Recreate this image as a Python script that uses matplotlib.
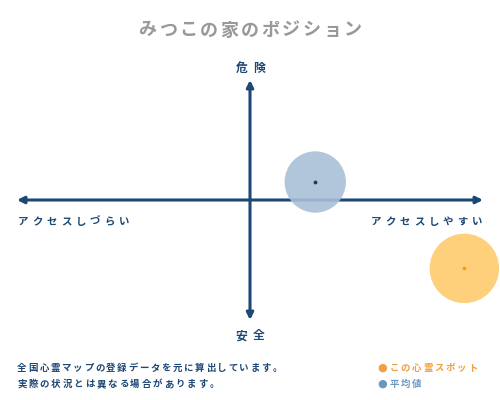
import matplotlib
matplotlib.use('Agg')
import matplotlib.pyplot as plt
from matplotlib.patches import FancyArrowPatch

plt.rcParams['font.family'] = ['Noto Sans CJK JP', 'DejaVu Sans']

# データ
titulo = 'みつこの家のポジション'
eixo_cima, eixo_baixo = '危険', '安全'
eixo_esq, eixo_dir = 'アクセスしづらい', 'アクセスしやすい'
pontos_nome = ['平均値', 'この心霊スポット']
pontos_x = [2.8, 9.2]
pontos_y = [1.5, -5.7]
notas = ['全国心霊マップの登録データを元に算出しています。',
         '実際の状況とは異なる場合があります。']

NAVY = '#1d4876'
COR_CIRC = ['#a9bfd7', '#ffcb6e']
COR_PONTO = ['#1d3a5a', '#f0a020']
COR_LEG = ['#6d98be', '#f0a040']

W, H = 500, 400
fig = plt.figure(figsize=(5, 4), dpi=100)


def px(x, y):
    return x / W, 1 - y / H


def texto_espacado(x, y, s, size, passo, cor, ha='left', weight='bold'):
    # desenha caractere por caractere para ter espaçamento
    n = len(s)
    total = passo * (n - 1)
    if ha == 'right':
        x0 = x - total
    elif ha == 'center':
        x0 = x - total / 2
    else:
        x0 = x
    for i, c in enumerate(s):
        fx, fy = px(x0 + i * passo, y)
        ha_c = 'left' if ha == 'left' and False else 'center'
        fig.text(fx, fy, c, fontsize=size, color=cor, ha=ha_c, va='center',
                 weight=weight)


# eixos: área entre as setas
l, t = px(17, 80)
r, b = px(483, 320)
ax = fig.add_axes([l, b, r - l, t - b])
ax.set_xlim(-10, 10)
ax.set_ylim(-10, 10)
ax.axis('off')

# setas
ax.add_patch(FancyArrowPatch((-10, 0), (10, 0), arrowstyle='<|-|>',
                             mutation_scale=10, color=NAVY, lw=2.2,
                             shrinkA=0, shrinkB=0, zorder=1))
ax.add_patch(FancyArrowPatch((0, -10), (0, 10), arrowstyle='<|-|>',
                             mutation_scale=10, color=NAVY, lw=2.2,
                             shrinkA=0, shrinkB=0, zorder=1))

# círculos
tamanhos = [1950, 2500]
for i in range(len(pontos_x)):
    ax.scatter(pontos_x[i], pontos_y[i], s=tamanhos[i], color=COR_CIRC[i],
               alpha=0.9, edgecolors='none', zorder=2, clip_on=False)
    ax.scatter(pontos_x[i], pontos_y[i], s=3, color=COR_PONTO[i],
               zorder=3, clip_on=False)

# textos
texto_espacado(250, 30, titulo, 13, 20.5, '#999999', ha='center')
texto_espacado(250, 68, eixo_cima, 8.5, 17, NAVY, ha='center')
texto_espacado(250, 336, eixo_baixo, 8.5, 17, NAVY, ha='center')
texto_espacado(23, 222, eixo_esq, 7.5, 14.4, NAVY, ha='left')
texto_espacado(477, 222, eixo_dir, 7.5, 14.4, NAVY, ha='right')

texto_espacado(22, 368, notas[0], 6.8, 11.1, NAVY, ha='left')
texto_espacado(22, 384, notas[1], 6.8, 11.3, NAVY, ha='left')

# legenda
ax_leg_y = [384, 368]
for i in range(len(pontos_nome)):
    fx, fy = px(382, ax_leg_y[i])
    fig.text(fx, fy, '●', fontsize=8, color=COR_LEG[i], ha='center',
             va='center', family=['DejaVu Sans'])
    texto_espacado(394, ax_leg_y[i], pontos_nome[i], 6.8, 11.3, COR_LEG[i],
                   ha='left')

fig.savefig('out.png', dpi=100, facecolor='white')
